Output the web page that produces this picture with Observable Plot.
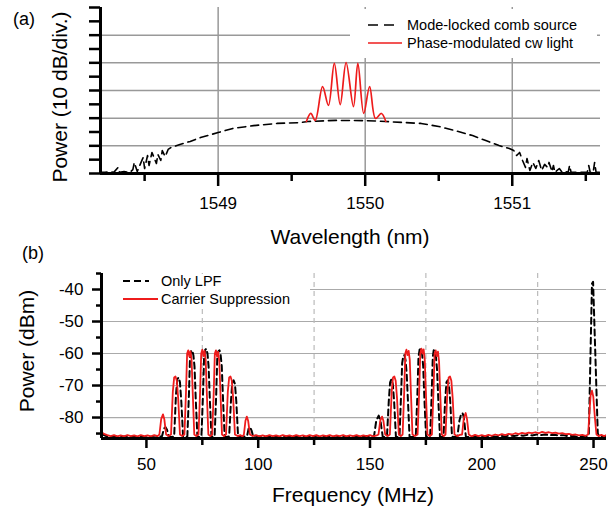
<!DOCTYPE html>
<html><head><meta charset="utf-8">
<script src="https://cdn.jsdelivr.net/npm/d3@7"></script>
<script src="https://cdn.jsdelivr.net/npm/@observablehq/plot@0.6"></script>
<style>
body{margin:0;background:#fff;font-family:"Liberation Sans",Arial,sans-serif;}
#wrap{position:relative;width:616px;height:509px;overflow:hidden;background:#fff;}
.abs{position:absolute;white-space:nowrap;color:#000;line-height:1;}
.ctr{transform:translate(-50%,-50%);}
.rot{transform:translate(-50%,-50%) rotate(-90deg);}
.ttl{font-size:21px;}
.leg{font-size:14.5px;}
.box{position:absolute;background:#fff;}
svg.plot{position:absolute;left:0;}
</style></head>
<body><div id="wrap"></div>
<script>
// ---------- Panel (a): wavelength (nm) vs power (divisions of 10 dB) ----------
const aXDomain = [1548.2, 1551.6];
const aYDomain = [0, 6];
const aXTicks = [1549, 1550, 1551];
const aXMinor = [1548.5, 1549.5, 1550.5, 1551.5];
const aYTicks = [0, 0.5, 1, 1.5, 2, 2.5, 3, 3.5, 4, 4.5, 5, 5.5, 6];
const aYGrid = [1, 2, 3, 4, 5];
const aLegend = ["Mode-locked comb source", "Phase-modulated cw light"];

const combSource = [
  [1548.19,0.04],[1548.23,0.04],[1548.26,0.07],[1548.29,0.04],[1548.32,0.22],[1548.33,0.04],[1548.36,0.07],
  [1548.40,0.04],[1548.42,0.14],[1548.43,0.40],[1548.45,0.07],[1548.47,0.33],[1548.49,0.58],[1548.50,0.18],
  [1548.52,0.65],[1548.53,0.29],[1548.55,0.76],[1548.58,0.36],[1548.59,0.69],[1548.61,0.47],[1548.62,0.83],
  [1548.64,0.61],[1548.66,0.87],[1548.68,0.94],[1548.74,1.05],[1548.81,1.16],[1548.88,1.30],[1549.00,1.48],
  [1549.10,1.63],[1549.24,1.73],[1549.40,1.81],[1549.56,1.84],[1549.61,1.88],[1549.80,1.92],[1550.00,1.91],
  [1550.14,1.88],[1550.27,1.84],[1550.38,1.81],[1550.50,1.70],[1550.61,1.55],[1550.73,1.37],[1550.82,1.19],
  [1550.91,1.01],[1550.98,0.90],[1551.01,0.83],[1551.03,0.65],[1551.05,0.76],[1551.07,0.47],[1551.09,0.22],
  [1551.10,0.54],[1551.12,0.11],[1551.14,0.40],[1551.16,0.18],[1551.18,0.47],[1551.20,0.11],[1551.22,0.33],
  [1551.24,0.22],[1551.25,0.40],[1551.27,0.07],[1551.28,0.29],[1551.29,0.04],[1551.32,0.18],[1551.34,0.04],
  [1551.36,0.07],[1551.38,0.04],[1551.39,0.29],[1551.40,0.04],[1551.45,0.04],[1551.48,0.04],[1551.51,0.04],
  [1551.52,0.29],[1551.53,0.04],[1551.55,0.04],[1551.56,0.40],[1551.57,0.04],[1551.60,0.04]
];
const phaseModulated = [
  [1549.60,1.88],[1549.63,2.17],[1549.66,1.92],[1549.71,3.14],[1549.75,2.46],[1549.79,3.98],[1549.83,2.49],
  [1549.87,4.01],[1549.92,2.42],[1549.95,3.98],[1549.99,2.17],[1550.03,3.14],[1550.07,1.99],[1550.11,2.17],
  [1550.14,1.88]
];

// ---------- Panel (b): frequency (MHz) vs power (dBm) ----------
const bXDomain = [29.9, 255.8];
const bYDomain = [-86.55, -35];
const bXTicks = [50, 100, 150, 200, 250];
const bXMinor = [75, 125, 175, 225];
const bYTicks = [-40, -50, -60, -70, -80];
const bYMinor = [-35, -45, -55, -65, -75, -85];
const bLegend = ["Only LPF", "Carrier Suppression"];

const lpfSpectrum = [
  [30,-85.2],[32,-85.8],[34,-86.1],[36,-85.9],[38,-86.2],[40,-85.9],[42,-86.2],[44,-86.0],[46,-86.2],[48,-85.9],
  [50,-86.2],[52,-86.0],[54,-86.2],[56,-86.0],
  [57.0,-85.8],[57.8,-83.5],[58.5,-83],[59.2,-83.8],[60,-86],[61.5,-86.1],
  [62.4,-85.9],[63.2,-73],[63.8,-68],[64.4,-67.5],[65.0,-69],[65.6,-75],[66.4,-86],[67.5,-86.1],
  [68.3,-85.9],[69.0,-73],[69.5,-61],[70.0,-59.2],[70.5,-59],[71.0,-60.5],[71.5,-64],[72.1,-75],[72.8,-86],[73.8,-86.1],
  [74.6,-85.9],[75.3,-73],[75.8,-61],[76.3,-58.8],[76.8,-58.5],[77.3,-60],[77.8,-64],[78.4,-75],[79.1,-86],[80.0,-86.1],
  [80.5,-85.9],[81.2,-73],[81.7,-61],[82.2,-59.3],[82.7,-59],[83.2,-60.5],[83.7,-64],[84.3,-75],[85.0,-86],[86.0,-86.1],
  [87.0,-85.9],[87.8,-75],[88.4,-69],[89.0,-68.4],[89.6,-69.5],[90.2,-75],[91.0,-86],[92.5,-86.1],[94,-85.9],
  [95,-85.8],[95.7,-83.5],[96.3,-83],[97,-84],[97.8,-86],
  [98.5,-86.2],[100.5,-85.9],[102.5,-86.1],[104.5,-85.8],[106.5,-86.2],[108.5,-86.0],[110.5,-86.2],[112.5,-85.9],
  [114.5,-86.1],[116.5,-85.8],[118.5,-86.2],[120.5,-86.0],[122.5,-86.1],[124.5,-85.9],[126.5,-86.2],[128.5,-85.9],
  [130.5,-86.1],[132.5,-85.8],[134.5,-86.2],[136.5,-86.0],[138.5,-86.1],[140.5,-85.9],[142.5,-86.2],[144.5,-85.9],
  [146.5,-86.1],[148.5,-85.8],[150.5,-86.1],
  [151.8,-85.9],[152.8,-81],[153.9,-79.4],[154.7,-81],[155.7,-86],[156.8,-86.1],
  [157.6,-85.9],[158.4,-75],[159.0,-69],[159.6,-68],[160.2,-69.5],[160.8,-75],[161.6,-86],[162.6,-86.1],
  [163.2,-85.9],[163.9,-73],[164.4,-63],[164.9,-60.8],[165.4,-60.5],[165.9,-62],[166.4,-66],[167.0,-75],[167.7,-86],[169.2,-86.1],
  [170.5,-85.9],[171.2,-73],[171.7,-61],[172.2,-58.8],[172.8,-58.5],[173.3,-60],[173.8,-64],[174.4,-75],[175.1,-86],[176.1,-86.1],
  [176.9,-85.9],[177.6,-73],[178.1,-61],[178.5,-59],[179.0,-59.3],[179.5,-61],[180.0,-65],[180.6,-75],[181.3,-86],[182.2,-86.1],
  [182.9,-85.9],[183.6,-75],[184.2,-69],[184.7,-68.4],[185.3,-69.5],[185.9,-75],[186.7,-86],[188,-86.1],
  [189.1,-85.9],[190.0,-81],[190.8,-78.8],[191.4,-78.6],[192.0,-80],[192.9,-86],[194.5,-86.1],
  [196.5,-85.9],[198.5,-86.2],[200.5,-85.9],[202.5,-86.1],[204.5,-85.8],[206.5,-86.0],[208.5,-85.7],[210.5,-85.9],
  [212.5,-85.6],[214.5,-85.8],[216.5,-85.5],[218.5,-85.7],[220.5,-85.4],[222.5,-85.6],[224.5,-85.3],[226.5,-85.5],
  [228.5,-85.3],[230.5,-85.5],[232.5,-85.4],[234.5,-85.6],[236.5,-85.5],[238.5,-85.8],[240.5,-85.7],[242.5,-86.0],
  [244.5,-85.8],[246.2,-86.1],
  [247.2,-86],[247.9,-85],[249.3,-38.2],[249.8,-37.6],[251.9,-85],[252.6,-86],[254,-86.1],[255.8,-85.9]
];

const csSpectrum = [
  [30,-84.6],[31,-85.1],[32.5,-85.5],[34,-85.8],[35.5,-85.5],[37,-85.9],[38.5,-85.6],[40,-85.9],[41.5,-85.5],
  [43,-85.8],[44.5,-85.6],[46,-85.9],[47.5,-85.5],[49,-85.8],[50.5,-85.6],[52,-85.9],[53.5,-85.5],[55,-85.8],
  [55.8,-85.3],[56.6,-80.5],[57.4,-79],[58.0,-80.5],[58.8,-85.3],[59.9,-85.8],
  [61.0,-85.3],[61.8,-72],[62.4,-67.5],[63.0,-67.2],[63.6,-68.5],[64.2,-74],[65.0,-85.3],[66.0,-85.8],
  [67.0,-85.3],[67.7,-72],[68.2,-60],[68.7,-59],[69.2,-61],[69.7,-59.3],[70.2,-62],[70.7,-72],[71.4,-85.3],[72.3,-85.8],
  [73.3,-85.3],[74.0,-72],[74.5,-60],[75.0,-58.8],[75.5,-60.8],[76.0,-59.2],[76.5,-62],[77.0,-72],[77.7,-85.3],[78.6,-85.8],
  [79.4,-85.3],[80.1,-72],[80.6,-60],[81.1,-59],[81.6,-61],[82.1,-59.5],[82.6,-62.5],[83.1,-72],[83.8,-85.3],[84.7,-85.8],
  [85.6,-85.3],[86.4,-72],[87.0,-67.5],[87.6,-67.2],[88.2,-68.5],[88.8,-74],[89.6,-85.3],
  [90.8,-85.8],[92,-85.5],[93.0,-85.9],
  [93.6,-85.3],[94.3,-81],[94.9,-79.7],[95.5,-81],[96.3,-85.3],
  [97.5,-85.8],[99,-85.5],[100.5,-85.9],[102,-85.6],[103.5,-85.9],[105,-85.5],[106.5,-85.8],[108,-85.6],
  [109.5,-85.9],[111,-85.5],[112.5,-85.8],[114,-85.6],[115.5,-85.9],[117,-85.5],[118.5,-85.8],[120,-85.6],
  [121.5,-85.9],[123,-85.5],[124.5,-85.8],[126,-85.5],[127.5,-85.9],[129,-85.6],[130.5,-85.8],[132,-85.5],
  [133.5,-85.9],[135,-85.6],[136.5,-85.8],[138,-85.5],[139.5,-85.9],[141,-85.6],[142.5,-85.8],[144,-85.5],
  [145.5,-85.9],[147,-85.6],[148.5,-85.8],[150,-85.5],[151.5,-85.9],[153,-85.6],
  [153.8,-85.3],[154.6,-81],[155.4,-79.7],[156.0,-81],[156.8,-85.3],[157.9,-85.8],
  [158.9,-85.3],[159.7,-72],[160.3,-67.5],[160.9,-67.2],[161.5,-68.5],[162.1,-74],[162.9,-85.3],[163.8,-85.8],
  [164.6,-85.3],[165.3,-72],[165.8,-60],[166.3,-58.8],[166.8,-60.5],[167.3,-59.2],[167.8,-62],[168.3,-72],[169.0,-85.3],[170.1,-85.8],
  [171.3,-85.3],[172.0,-72],[172.5,-60],[173.0,-58.5],[173.5,-60],[174.0,-58.7],[174.5,-62],[175.0,-72],[175.7,-85.3],[176.7,-85.8],
  [177.7,-85.3],[178.4,-72],[178.9,-60],[179.4,-59],[179.9,-60.8],[180.4,-59.4],[180.9,-62.5],[181.4,-72],[182.1,-85.3],[183,-85.8],
  [183.8,-85.3],[184.6,-72],[185.2,-67.5],[185.8,-67.2],[186.4,-68.5],[187.0,-74],[187.8,-85.3],
  [189,-85.8],[190.2,-85.4],
  [191.2,-85.3],[192.0,-80],[192.8,-78.6],[193.4,-80.5],[194.2,-85.3],
  [195.5,-85.9],[197,-85.4],[198.5,-85.8],[200,-85.5],[201.5,-85.8],[203,-85.4],[204.5,-85.7],[206,-85.3],
  [207.5,-85.6],[209,-85.2],[210.5,-85.5],[212,-85.1],[213.5,-85.3],[215,-84.9],[216.5,-85.2],[218,-84.8],
  [219.5,-85.0],[221,-84.7],[222.5,-84.9],[224,-84.6],[225.5,-84.9],[227,-84.5],[228.5,-84.8],[230,-84.6],
  [231.5,-84.9],[233,-84.7],[234.5,-85.0],[236,-84.9],[237.5,-85.2],[239,-85.1],[240.5,-85.4],[242,-85.3],
  [243.5,-85.6],[245,-85.4],[246.5,-85.7],
  [247.6,-85.3],[248.2,-78],[248.7,-73],[249.3,-71.6],[249.9,-73.5],[250.6,-80],[251.3,-85.3],
  [252.3,-85.8],[253.5,-85.4],[254.7,-85.8],[255.8,-85.5]
];

// ---------- drawing ----------
const RED = "#ee1c1c";
const FONT = "'Liberation Sans', Arial, sans-serif";
const wrap = document.getElementById("wrap");

const plotA = Plot.plot({
  width: 616, height: 215,
  marginLeft: 100, marginRight: 16, marginTop: 7, marginBottom: 42,
  style: {fontFamily: FONT, fontSize: "17px", color: "#000", background: "transparent", overflow: "visible"},
  x: {domain: aXDomain},
  y: {domain: aYDomain},
  marks: [
    Plot.gridY(aYGrid, {stroke: "#999", strokeOpacity: 1, strokeWidth: 1.5}),
    Plot.gridX(aXTicks, {stroke: "#999", strokeOpacity: 1, strokeWidth: 1.5}),
    Plot.line(combSource, {x: d => d[0], y: d => d[1], stroke: "#000", strokeWidth: 1.6, strokeDasharray: "8,5", clip: true}),
    Plot.line(phaseModulated, {x: d => d[0], y: d => d[1], stroke: RED, strokeWidth: 1.7, curve: "catmull-rom", clip: true}),
    Plot.axisX(aXMinor, {tickSize: 8, strokeWidth: 2.5, tickFormat: () => "", label: null}),
    Plot.axisX(aXTicks, {tickSize: 13, tickPadding: 10, strokeWidth: 2.5, tickFormat: d => String(d), label: null, fontSize: 17}),
    Plot.axisY(aYTicks, {tickSize: 11, strokeWidth: 2.5, tickFormat: () => "", label: null}),
    Plot.ruleY([aYDomain[0]], {stroke: "#000", strokeWidth: 3}),
    Plot.ruleX([aXDomain[0]], {stroke: "#000", strokeWidth: 3})
  ]
});
plotA.classList.add("plot");
plotA.style.top = "0px";
wrap.appendChild(plotA);

const plotB = Plot.plot({
  width: 616, height: 230,
  marginLeft: 101, marginRight: 10, marginTop: 23, marginBottom: 42,
  style: {fontFamily: FONT, fontSize: "17px", color: "#000", background: "transparent", overflow: "visible"},
  x: {domain: bXDomain},
  y: {domain: bYDomain},
  marks: [
    Plot.gridY(bYTicks, {stroke: "#aaa", strokeOpacity: 1, strokeWidth: 1.2}),
    Plot.gridX(bXMinor, {stroke: "#bbb", strokeOpacity: 1, strokeWidth: 1.2, strokeDasharray: "5,4"}),
    Plot.line(lpfSpectrum, {x: d => d[0], y: d => d[1], stroke: "#000", strokeWidth: 2, strokeDasharray: "6,4", clip: true}),
    Plot.line(csSpectrum, {x: d => d[0], y: d => d[1], stroke: RED, strokeWidth: 1.8, clip: true}),
    Plot.axisX(bXMinor, {tickSize: 7, strokeWidth: 2.5, tickFormat: () => "", label: null}),
    Plot.axisX(bXTicks, {tickSize: 10, tickPadding: 9, strokeWidth: 2.5, tickFormat: d => String(d), label: null, fontSize: 17}),
    Plot.axisY(bYMinor, {tickSize: 5, strokeWidth: 2.5, tickFormat: () => "", label: null}),
    Plot.axisY(bYTicks, {tickSize: 9, tickPadding: 9, strokeWidth: 2.5, tickFormat: d => String(d), label: null, fontSize: 17}),
    Plot.ruleY([bYDomain[0]], {stroke: "#000", strokeWidth: 3}),
    Plot.ruleX([bXDomain[0]], {stroke: "#000", strokeWidth: 3})
  ]
});
plotB.classList.add("plot");
plotB.style.top = "250px";
wrap.appendChild(plotB);

// ---------- text & legends ----------
function txt(str, cls, css) {
  const d = document.createElement("div");
  d.className = "abs " + cls;
  d.textContent = str;
  Object.assign(d.style, css);
  wrap.appendChild(d);
  return d;
}
function box(css) {
  const d = document.createElement("div");
  d.className = "box";
  Object.assign(d.style, css);
  wrap.appendChild(d);
}
function sample(x1, x2, y, stroke, width, dash) {
  const ns = "http://www.w3.org/2000/svg";
  const s = document.createElementNS(ns, "svg");
  s.setAttribute("width", x2 - x1 + 2);
  s.setAttribute("height", 6);
  s.style.position = "absolute";
  s.style.left = (x1 - 1) + "px";
  s.style.top = (y - 3) + "px";
  const l = document.createElementNS(ns, "line");
  l.setAttribute("x1", 1); l.setAttribute("x2", x2 - x1 + 1);
  l.setAttribute("y1", 3); l.setAttribute("y2", 3);
  l.setAttribute("stroke", stroke); l.setAttribute("stroke-width", width);
  if (dash) l.setAttribute("stroke-dasharray", dash);
  s.appendChild(l);
  wrap.appendChild(s);
}

// panel (a)
txt("(a)", "", {left: "13px", top: "10px", fontSize: "18px"});
txt("Power (10 dB/div.)", "ttl rot", {left: "59px", top: "97px"});
txt("Wavelength (nm)", "ttl ctr", {left: "350px", top: "236px"});
box({left: "350px", top: "9px", width: "247px", height: "49px"});
sample(368, 394, 25, "#000", 1.6, "10,6");
sample(368, 402, 43, RED, 1.6, null);
txt(aLegend[0], "leg", {left: "407px", top: "18px"});
txt(aLegend[1], "leg", {left: "407px", top: "36px"});

// panel (b)
txt("(b)", "", {left: "22px", top: "244px", fontSize: "18px"});
txt("Power (dBm)", "ttl rot", {left: "26px", top: "351px"});
txt("Frequency (MHz)", "ttl ctr", {left: "353px", top: "494px"});
box({left: "103px", top: "274px", width: "207px", height: "34px"});
sample(123, 149, 281, "#000", 2.2, "7,4");
sample(123, 158, 299, RED, 1.8, null);
txt(bLegend[0], "leg", {left: "161px", top: "274px"});
txt(bLegend[1], "leg", {left: "161px", top: "292px"});
</script>
</body></html>
